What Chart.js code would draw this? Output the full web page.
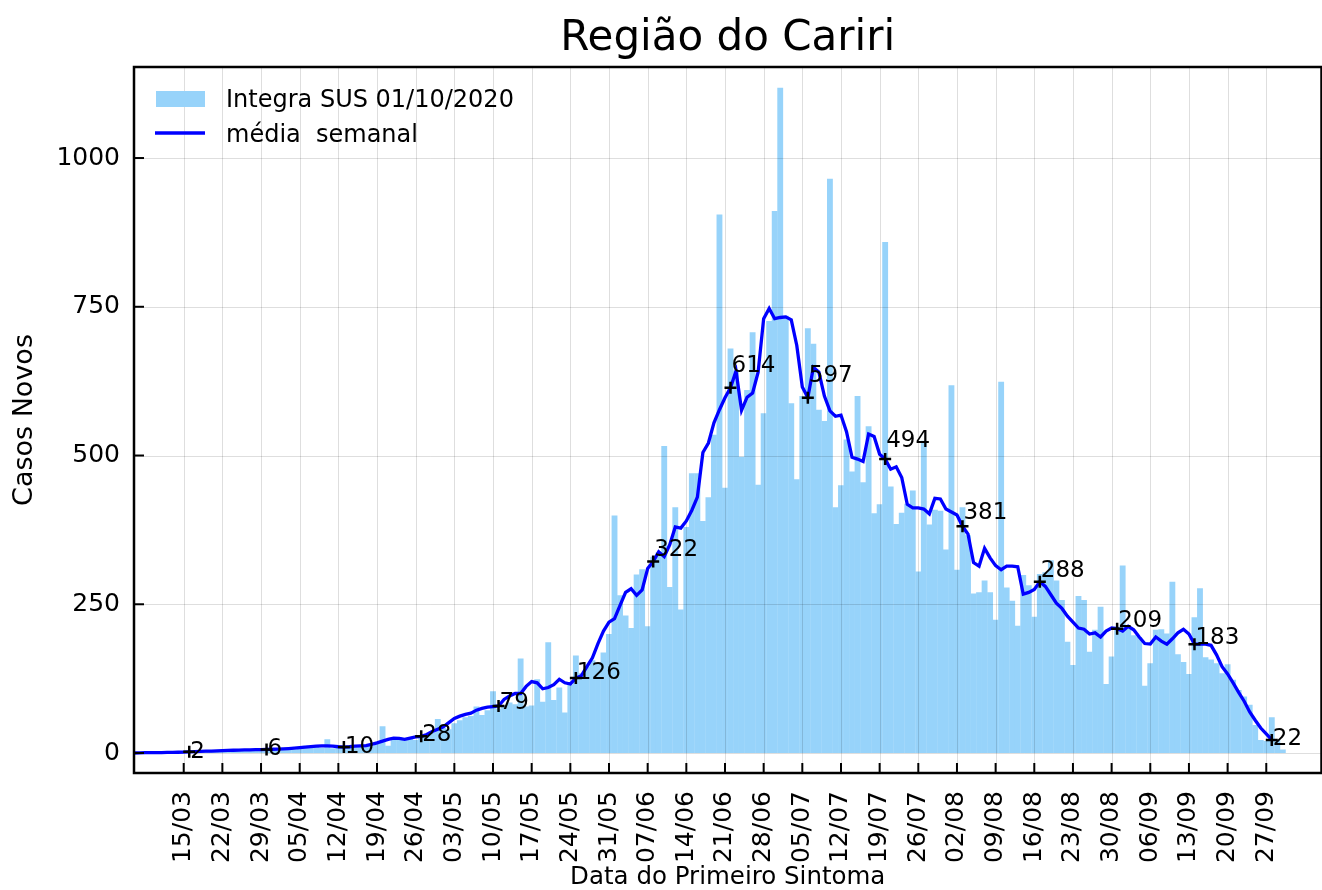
<!DOCTYPE html>
<html><head><meta charset="utf-8">
<script src="https://cdn.jsdelivr.net/npm/chart.js@4.4.1/dist/chart.umd.min.js"></script>
<style>html,body{margin:0;padding:0;background:#fff;overflow:hidden;width:1322px;height:890px}canvas{display:block}</style>
</head><body>
<canvas id="c" width="1330" height="890"></canvas>
<script>
const chartTitle = 'Região do Cariri';
const xTitle = 'Data do Primeiro Sintoma';
const yTitle = 'Casos Novos';
const barLabel = 'Integra SUS 01/10/2020';
const lineLabel = 'média  semanal';

// day offsets are counted from 15/03 (day 0); first bar is 06/03
const firstDay = -9;

// daily new cases (06/03 .. 30/09)
const cases = [
  0,0,0,1,0,0,1,
  1,0,2,3,1,2,3,
  4,3,5,4,6,5,4,
  6,5,7,6,8,5,7,
  8,6,9,12,10,11,9,
  23,8,10,9,12,11,13,
  14,12,16,45,12,22,27,
  24,26,22,30,30,35,57,
  42,40,50,55,60,62,78,
  64,72,104,75,80,85,82,
  159,78,80,124,86,186,89,
  110,68,115,164,134,145,156,
  150,169,200,399,265,231,210,
  300,309,213,330,338,516,279,
  413,241,380,470,470,390,430,
  535,905,446,680,643,498,610,
  707,451,571,726,911,1118,735,
  588,460,600,714,688,577,558,
  965,413,450,527,473,600,455,
  549,403,418,859,448,385,404,
  419,441,305,525,384,409,407,
  342,618,308,413,366,268,270,
  290,270,224,624,278,256,214,
  299,282,229,301,304,324,290,
  257,187,148,264,257,170,207,
  246,116,162,212,315,212,198,
  195,113,151,207,208,201,288,
  166,153,133,228,277,161,157,
  151,134,149,123,106,95,81,
  47,22,20,60,22,6
];

// weekly moving average (06/03 .. 28/09)
const weeklyAvg = [
  0,0.3,0.5,0.5,0.7,0.8,1,
  1,1.3,1.6,2,2.3,2.7,3,
  3.3,3.6,4,4.3,4.6,5,5.2,
  5.4,5.6,5.8,6,6.3,6.6,7,
  7.5,8.2,9,9.8,10.6,11.5,12,
  12,11.5,10.5,10,10.5,11.5,12,
  12.5,14.5,17,20,23,25,24.5,
  23,25,27,28,31,36,40,
  44,51,58,62,65,67,72,
  75,77,78,79,90,96,100,
  100,112,120,118,108,110,115,
  124,118,116,126,130,145,160,
  184,205,220,226,248,270,276,
  265,274,310,322,338,330,350,
  380,378,390,408,430,505,521,
  555,577,597,614,642,576,598,
  605,640,730,747,730,732,733,
  728,685,615,597,648,640,600,
  575,566,568,540,497,494,490,
  536,532,502,494,477,481,463,
  418,412,412,410,402,428,427,
  410,405,400,381,368,320,314,
  344,328,315,308,314,314,313,
  267,270,275,288,280,266,252,
  243,230,220,210,208,200,202,
  195,205,210,209,205,213,207,
  195,184,183,195,188,183,192,
  202,208,200,183,183,183,181,
  165,145,133,118,102,87,69,
  55,42,32,22
];

const tickLabels = ['15/03','22/03','29/03','05/04','12/04','19/04','26/04','03/05','10/05','17/05',
  '24/05','31/05','07/06','14/06','21/06','28/06','05/07','12/07','19/07','26/07','02/08','09/08',
  '16/08','23/08','30/08','06/09','13/09','20/09','27/09'];
const tickDays = [0,7,14,21,28,35,42,49,56,63,70,77,84,91,98,105,112,119,126,133,140,147,154,161,168,175,182,189,196];
const yTickValues = [0,250,500,750,1000];
const yTickLabels = ['0','250','500','750','1000'];

const annotDays = [1,15,29,43,57,71,85,99,113,127,141,155,169,183,197];
const annotValues = [2,6,10,28,79,126,322,614,597,494,381,288,209,183,22];

const FONT = "'DejaVu Sans', sans-serif";
const barColor = '#97d3fa';
const lineColor = '#0000ff';
const gridColor = 'rgba(0,0,0,0.13)';

Chart.defaults.font.family = FONT;
Chart.defaults.color = '#000';

const decor = {
  id: 'decor',
  afterDatasetDraw(chart, args) {
    if (args.index !== 0) return;
    const {ctx, chartArea: a, scales: {x, y}} = chart;
    ctx.save();
    ctx.strokeStyle = gridColor;
    ctx.lineWidth = 1;
    x.ticks.forEach(t => {
      const p = Math.round(x.getPixelForValue(t.value)) + 0.5;
      ctx.beginPath(); ctx.moveTo(p, a.top); ctx.lineTo(p, a.bottom); ctx.stroke();
    });
    y.ticks.forEach(t => {
      const p = Math.round(y.getPixelForValue(t.value)) + 0.5;
      ctx.beginPath(); ctx.moveTo(a.left, p); ctx.lineTo(a.right, p); ctx.stroke();
    });
    ctx.restore();
  },
  afterDraw(chart) {
    const {ctx, chartArea: a, scales: {x, y}} = chart;
    ctx.save();
    // annotation labels
    ctx.fillStyle = '#000';
    ctx.font = '23px ' + FONT;
    ctx.textAlign = 'left';
    ctx.textBaseline = 'alphabetic';
    annotDays.forEach((d, i) => {
      const v = annotValues[i];
      ctx.fillText(String(v), x.getPixelForValue(d) + 1, y.getPixelForValue(v * 1.06 - 10));
    });
    // spines
    ctx.strokeStyle = '#000';
    ctx.lineWidth = 2.5;
    ctx.strokeRect(a.left, a.top, a.right - a.left, a.bottom - a.top);
    // inward tick marks
    ctx.lineWidth = 2;
    x.ticks.forEach(t => {
      const p = x.getPixelForValue(t.value);
      ctx.beginPath(); ctx.moveTo(p, a.bottom); ctx.lineTo(p, a.bottom - 10); ctx.stroke();
    });
    y.ticks.forEach(t => {
      const p = y.getPixelForValue(t.value);
      ctx.beginPath(); ctx.moveTo(a.left, p); ctx.lineTo(a.left + 10, p); ctx.stroke();
    });
    // legend
    ctx.fillStyle = barColor;
    ctx.fillRect(a.left + 22, a.top + 24, 49, 16);
    ctx.strokeStyle = lineColor;
    ctx.lineWidth = 3.3;
    ctx.beginPath(); ctx.moveTo(a.left + 21, a.top + 66); ctx.lineTo(a.left + 71, a.top + 66); ctx.stroke();
    ctx.fillStyle = '#000';
    ctx.font = '24px ' + FONT;
    ctx.fillText(barLabel, a.left + 92, a.top + 40);
    ctx.fillText(lineLabel, a.left + 92, a.top + 74.5);
    // title
    ctx.font = '42px ' + FONT;
    ctx.textAlign = 'center';
    ctx.fillText(chartTitle, (a.left + a.right) / 2, 49.5);
    ctx.restore();
  }
};

new Chart(document.getElementById('c'), {
  type: 'bar',
  data: {
    datasets: [
      {
        type: 'bar', label: barLabel,
        data: cases.map((v, i) => ({x: firstDay + i, y: v})),
        backgroundColor: barColor, borderWidth: 0,
        barPercentage: 1.06, categoryPercentage: 1, order: 3
      },
      {
        type: 'line', label: lineLabel,
        data: weeklyAvg.map((v, i) => ({x: firstDay + i, y: v})),
        borderColor: lineColor, borderWidth: 3.3, pointRadius: 0, tension: 0, fill: false, order: 2
      },
      {
        type: 'scatter', label: 'marcas',
        data: annotDays.map((d, i) => ({x: d, y: annotValues[i]})),
        pointStyle: 'cross', pointRadius: 6, borderColor: '#000', backgroundColor: '#000',
        borderWidth: 2.5, order: 1
      }
    ]
  },
  options: {
    responsive: false, animation: false, devicePixelRatio: 1,
    layout: {padding: {top: 67, right: 3, bottom: 0, left: 0}},
    plugins: {legend: {display: false}, tooltip: {enabled: false}, title: {display: false}},
    scales: {
      x: {
        type: 'linear', min: -9, max: 206, offset: false, bounds: 'data',
        afterBuildTicks: s => { s.ticks = tickDays.map(v => ({value: v})); },
        afterFit: s => { s.height = 117; },
        grid: {display: false, drawTicks: false},
        border: {display: false},
        ticks: {autoSkip: false, maxRotation: 90, minRotation: 90, padding: 18,
          font: {size: 25}, color: '#000', callback: (v, i) => tickLabels[i]},
        title: {display: true, text: xTitle, color: '#000',
          font: {size: 24.5, lineHeight: 1}, padding: {top: 0, bottom: 0}}
      },
      y: {
        type: 'linear', min: -33.6, max: 1153, bounds: 'data',
        afterBuildTicks: s => { s.ticks = yTickValues.map(v => ({value: v})); },
        afterFit: s => { s.width = 134; },
        grid: {display: false, drawTicks: false},
        border: {display: false},
        ticks: {padding: 14, font: {size: 25}, color: '#000', callback: (v, i) => yTickLabels[i]},
        title: {display: true, text: yTitle, color: '#000',
          font: {size: 27, lineHeight: 1}, padding: {top: 11.7, bottom: 0}}
      }
    }
  },
  plugins: [decor]
});
</script>
</body></html>
